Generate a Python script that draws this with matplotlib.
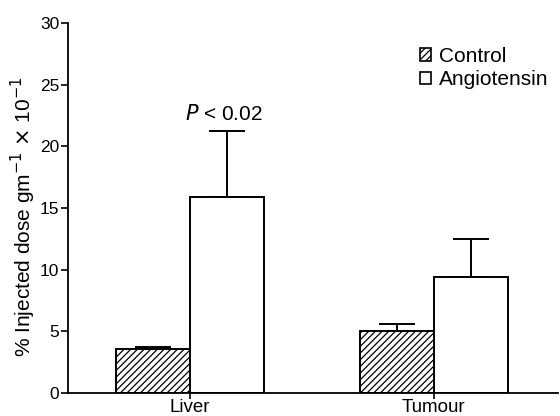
import numpy as np
import matplotlib
matplotlib.use("Agg")
import matplotlib.pyplot as plt
from matplotlib.patches import Patch

plt.rcParams['font.family'] = ['Liberation Sans', 'DejaVu Sans']
plt.rcParams['hatch.linewidth'] = 0.9

# data
tissues = ['Liver', 'Tumour']
control_mean = [3.57, 5.03]
control_err = [0.16, 0.57]
angio_mean = [15.9, 9.41]
angio_err = [5.35, 3.08]

fig = plt.figure(figsize=(5.6, 4.16), dpi=100)
ax = fig.add_axes([0.121, 0.0553, 0.875, 0.8894])

x = np.arange(len(tissues))
w = 0.303

ax.bar(x - w / 2, control_mean, w, color='white', edgecolor='black',
       hatch='/////', linewidth=1.4, zorder=2)
ax.bar(x + w / 2, angio_mean, w, color='white', edgecolor='black',
       linewidth=1.4, zorder=2)
ax.errorbar(x - w / 2, control_mean, yerr=[np.zeros(2), control_err], fmt='none',
            ecolor='black', elinewidth=1.4, capsize=13, capthick=1.4, zorder=1)
ax.errorbar(x + w / 2, angio_mean, yerr=[np.zeros(2), angio_err], fmt='none',
            ecolor='black', elinewidth=1.4, capsize=13, capthick=1.4, zorder=1)

# p-value label over the liver angiotensin bar
ax.text(x[0] + w / 2 - 0.01, angio_mean[0] + angio_err[0] + 0.55, '$\\it{P}$ < 0.02',
        ha='center', va='bottom', fontsize=15)

ax.set_xlim(-0.5, 1.508)
ax.set_ylim(0, 30)
ax.set_yticks(range(0, 31, 5))
ax.set_xticks(x)
ax.set_xticklabels(tissues, fontsize=13.5)
ax.tick_params(axis='y', labelsize=12.5, length=5, width=1.2, pad=1)
ax.tick_params(axis='x', length=4, width=1.2, pad=0)
for s in ['top', 'right']:
    ax.spines[s].set_visible(False)
for s in ['left', 'bottom']:
    ax.spines[s].set_linewidth(1.3)

fig.text(0.041, 0.478, '% Injected dose gm$^{-1}$ $\\times$ 10$^{-1}$', fontsize=15,
         rotation=90, ha='center', va='center')

handles = [Patch(facecolor='white', edgecolor='black', hatch='/////', linewidth=1.2, label='Control'),
           Patch(facecolor='white', edgecolor='black', linewidth=1.2, label='Angiotensin')]
fig.legend(handles=handles, loc='upper left', bbox_to_anchor=(420 / 560, 1 - 47 / 416),
           frameon=False, fontsize=15, handlelength=0.55, handleheight=0.55,
           handletextpad=0.35, labelspacing=0.2, borderpad=0, borderaxespad=0)

fig.savefig('out.png', dpi=100)
